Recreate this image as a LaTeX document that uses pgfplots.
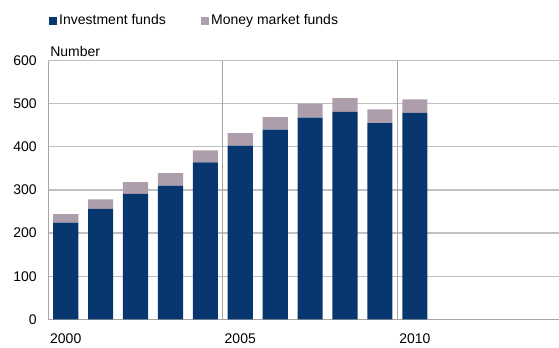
\documentclass[border=0pt]{standalone}
\usepackage{pgfplots}
\pgfplotsset{compat=1.18}
\usepackage{fontspec}
\setmainfont{Liberation Sans}
\definecolor{invblue}{RGB}{8,55,111}
\definecolor{mmfmauve}{RGB}{174,158,171}
\definecolor{gridgray}{RGB}{192,192,192}
\definecolor{axgray}{RGB}{165,165,165}
\begin{document}
\fontsize{10.5pt}{12pt}\selectfont
\begin{tikzpicture}
\begin{axis}[
  scale only axis,
  width=383pt, height=194pt,
  at={(0,0)}, anchor=south west,
  ybar stacked,
  bar width=0.72,
  xmin=-0.5, xmax=14.13,
  ymin=0, ymax=600,
  ytick={0,100,...,600},
  xtick={0,5,10},
  xticklabels={2000,2005,2010},
  extra x ticks={4.5,9.5},
  extra x tick labels={},
  extra x tick style={grid=major, major grid style={axgray, line width=0.9pt}},
  ymajorgrids,
  major grid style={gridgray, line width=0.9pt},
  axis x line*=bottom,
  axis y line*=left,
  axis line style={axgray, line width=0.9pt},
  major tick length=0pt,
  /pgf/number format/assume math mode=true,
  tick label style={font=\fontsize{10.5pt}{12pt}\selectfont},
  yticklabel style={xshift=-5pt},
  xticklabel style={yshift=-7pt},
  legend style={draw=none, fill=none, inner sep=0pt, at={(axis description cs:0,1)}, anchor=west, yshift=29.8pt, xshift=0.5pt,
    legend columns=2, font=\fontsize{10.5pt}{12pt}\selectfont,
    /tikz/every even column/.append style={column sep=25pt},
    nodes={inner sep=1.5pt}},
  legend cell align=left,
  legend image code/.code={\fill[#1] (0pt,-3pt) rectangle (6pt,3pt);},
  clip=false,
]
\addplot[fill=invblue, draw=none] coordinates {
 (0,224) (1,256) (2,291) (3,310) (4,364) (5,403) (6,440) (7,468) (8,481) (9,455) (10,479)};
\addlegendentry{Investment funds}
\addplot[fill=mmfmauve, draw=none] coordinates {
 (0,20) (1,22) (2,27) (3,29) (4,28) (5,29) (6,29) (7,32) (8,32) (9,32) (10,31)};
\addlegendentry{Money market funds}
\node[anchor=south west, inner sep=0pt] at ([xshift=1.3pt, yshift=3pt]axis description cs:0,1) {Number};
\end{axis}
\pgfresetboundingbox
\useasboundingbox (-36.2pt,-20.8pt) rectangle (383pt,239.45pt);
\end{tikzpicture}
\end{document}
